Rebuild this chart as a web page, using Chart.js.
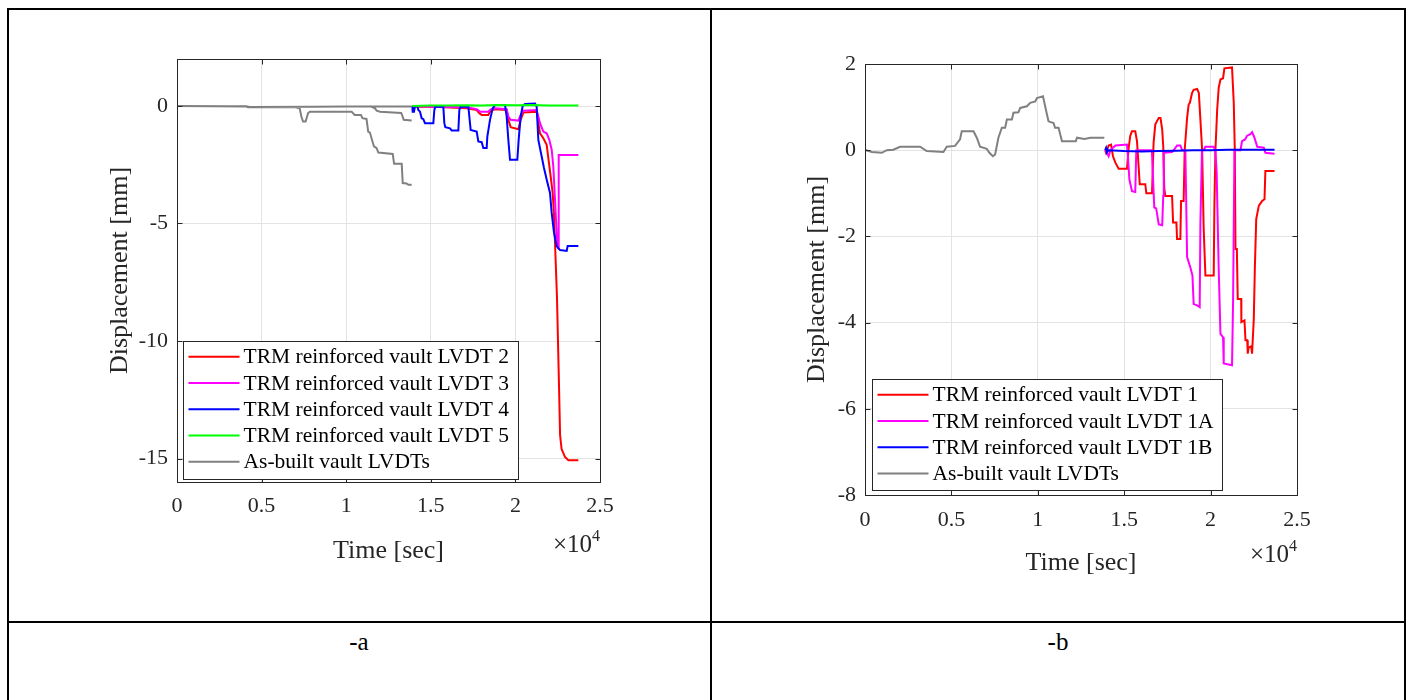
<!DOCTYPE html>
<html><head><meta charset="utf-8">
<script src="https://cdn.jsdelivr.net/npm/chart.js@4.4.0/dist/chart.umd.min.js"></script>
<style>
html,body{margin:0;padding:0;background:#fff;width:1413px;height:700px;overflow:hidden;position:relative;font-family:"Liberation Serif",serif;}
.ln{position:absolute;background:#000;}
canvas{position:absolute;}
.cap{position:absolute;font-size:25px;color:#000;transform:translateX(-50%);font-family:"Liberation Serif",serif;}
</style></head><body>
<div class="ln" style="left:7px;top:8px;width:1399px;height:2px"></div>
<div class="ln" style="left:7px;top:8px;width:2px;height:700px"></div>
<div class="ln" style="left:1404px;top:8px;width:2px;height:700px"></div>
<div class="ln" style="left:710px;top:8px;width:2px;height:700px"></div>
<div class="ln" style="left:7px;top:621px;width:1399px;height:2px"></div>
<div class="cap" style="left:359px;top:628px">-a</div>
<div class="cap" style="left:1058px;top:628px">-b</div>
<canvas id="ca" width="660" height="580" style="left:20px;top:20px"></canvas>
<canvas id="cb" width="680" height="590" style="left:720px;top:20px"></canvas>
<script>
// ---------- tick labels ----------
const xTickLabels = ['0','0.5','1','1.5','2','2.5'];
const xTickValues = [0,5000,10000,15000,20000,25000];
const yTicksA = [-15,-10,-5,0];
const yTicksB = [-8,-6,-4,-2,0,2];

// ---------- chart (a) series: time [s], displacement [mm] ----------
const lvdt2T = [13909,13968,15150,17120,17711,17869,18007,18401,18538,18795,19484,19583,19720,20174,20311,20469,21257,21356,21454,21651,21848,21947,22084,22203,22281,22300,22460,22580,22640,22730,22930,23130,23720];
const lvdt2V = [0,-0.03,-0.03,-0.1,-0.17,-0.31,-0.38,-0.38,-0.2,-0.14,-0.17,-0.59,-0.9,-0.99,-0.59,-0.28,-0.24,-0.73,-1.16,-1.37,-1.65,-2.22,-3.0,-3.7,-4.6,-5.0,-8.2,-12.0,-14.0,-14.6,-14.93,-15.07,-15.07];

const lvdt3T = [13909,15150,17120,17711,17910,18401,18538,18795,19484,19583,19720,20174,20311,20469,21257,21356,21454,21651,21848,22006,22144,22240,22340,22440,22500,22530,22560,23720];
const lvdt3V = [0,-0.03,-0.05,-0.14,-0.24,-0.24,-0.14,-0.1,-0.14,-0.45,-0.59,-0.62,-0.38,-0.2,-0.17,-0.45,-0.73,-1.09,-1.16,-1.44,-1.86,-2.57,-3.98,-5.39,-6.0,-6.05,-2.08,-2.08];

const lvdt4T = [13909,13929,14007,14067,14204,14264,14362,14461,14559,14658,15150,15209,15268,15741,15800,15859,16135,16234,16628,16687,16765,17219,17278,17356,17711,17810,18007,18105,18302,18341,18499,18657,18795,19386,19484,19583,19681,20114,20193,20311,20430,20568,21159,21257,21356,21553,21690,21848,22045,22144,22281,22439,22636,23030,23089,23720];
const lvdt4V = [0,-0.24,-0.24,0,0,-0.17,-0.24,-0.52,-0.56,-0.73,-0.73,-0.17,-0.03,-0.03,-0.73,-0.9,-0.95,-1.04,-1.04,-0.17,-0.03,-0.03,-0.45,-1.02,-1.09,-1.51,-1.54,-1.79,-1.79,-1.3,-0.59,-0.1,0.04,0.04,-0.45,-1.44,-2.29,-2.29,-1.44,-0.45,0,0.09,0.11,-0.03,-1.44,-2.15,-2.64,-3.13,-3.7,-4.55,-5.39,-5.96,-6.13,-6.17,-5.96,-5.96];

const lvdt5T = [13909,15000,16000,17000,18000,19000,20000,21000,22000,23720];
const lvdt5V = [0,0.02,0.02,0.03,0.02,0.04,0.03,0.04,0.02,0.02];

const asBuiltA1T = [0,2000,4100,4200,7000,7250,7350,7450,7600,7750,7860,10320,10500,10870,10960,11200,11300,11400,11640,11800,11900,12750,12830,13280,13340,13570,13670,13870];
const asBuiltA1V = [0,-0.01,-0.02,-0.05,-0.05,-0.1,-0.45,-0.66,-0.66,-0.3,-0.24,-0.24,-0.38,-0.38,-0.52,-0.55,-1.09,-1.13,-1.72,-1.79,-1.98,-2.04,-2.46,-2.46,-3.28,-3.3,-3.35,-3.35];
const asBuiltA2T = [0,3000,4100,4300,8000,10000,13870];
const asBuiltA2V = [0,-0.01,-0.01,-0.04,-0.03,-0.02,-0.02];
const asBuiltA3T = [11400,11700,11800,12000,13250,13300,13400,13870];
const asBuiltA3V = [0,-0.1,-0.2,-0.24,-0.3,-0.38,-0.59,-0.62];

// ---------- chart (b) series ----------
const lvdt1T = [13900,13950,14100,14240,14350,14490,14680,15160,15260,15350,15450,15640,15740,15900,16220,16280,16610,16700,16800,17000,17100,17200,17260,17320,17380,17770,17830,18020,18060,18250,18290,18440,18500,18640,18730,18800,18930,19020,19220,19320,19410,19510,19600,19700,20180,20220,20280,20380,20470,20570,20720,20800,21240,21340,21400,21440,21520,21570,21770,21780,21960,22020,22120,22150,22200,22350,22400,22500,22560,22640,22790,22980,23120,23170,23700];
const lvdt1V = [0,-0.06,0.11,0.13,-0.14,-0.29,-0.43,-0.43,0.06,0.33,0.44,0.44,0.21,-0.79,-0.79,-1.0,-1.0,0.17,0.6,0.75,0.75,0.48,0.08,-0.9,-1.06,-1.06,-1.68,-1.68,-2.06,-2.06,-1.18,-1.18,0,0.75,1.06,1.1,1.33,1.4,1.42,1.33,0.71,0,-1.83,-2.91,-2.91,-1.29,0,0.94,1.45,1.64,1.67,1.9,1.92,1.1,0,-2.29,-2.29,-3.45,-3.45,-3.99,-3.95,-4.41,-4.41,-4.72,-4.58,-4.55,-4.72,-3.91,-2.75,-1.6,-1.29,-1.18,-1.14,-0.48,-0.48];

const lvdt1AT = [13900,13950,14000,14100,14200,14490,15160,15230,15300,15450,15640,15700,16600,16740,16850,17000,17200,17260,17290,17770,17900,18060,18250,18350,18540,18640,18830,18950,19020,19220,19370,19410,19500,19600,19700,20180,20280,20350,20470,20570,20720,20760,21240,21300,21380,21730,21820,22000,22100,22300,22400,22500,22570,22700,23080,23170,23700];
const lvdt1AV = [0,-0.03,-0.06,-0.14,0,0.11,0.13,-0.23,-0.68,-0.95,-0.97,0,0,-1.33,-1.35,-1.72,-1.74,-1.06,-0.06,-0.04,0.02,0.11,0.11,0,0,-2.48,-2.72,-2.91,-3.57,-3.6,-3.64,-1.68,0,0,0.08,0.08,-0.03,-0.5,-2.76,-4.26,-4.34,-4.95,-4.99,-3.53,0,0,0.21,0.25,0.33,0.37,0.42,0.33,0.25,0.08,0.06,-0.06,-0.08];

const lvdt1BT = [13900,13950,14000,14100,15000,16000,17000,18000,19000,20000,21000,22000,23700];
const lvdt1BV = [0,0.05,-0.05,0,-0.02,-0.03,-0.02,-0.01,0,0,0.01,0.01,0.01];

const asBuiltBT = [0,60,400,970,1260,1640,2030,3190,3570,4540,4730,5210,5500,5600,6280,6470,6660,7050,7200,7400,7530,7720,7920,8110,8210,8500,8590,8880,8980,9370,9560,9850,9950,10300,10530,10620,10910,11000,11200,11400,12200,12270,12700,13040,13850];
const asBuiltBV = [0,0,-0.04,-0.06,0,0.01,0.08,0.08,-0.02,-0.04,0.08,0.1,0.25,0.44,0.44,0.29,0.08,0.03,-0.06,-0.14,-0.1,0.29,0.52,0.52,0.71,0.71,0.87,0.88,0.98,1.02,1.1,1.13,1.21,1.25,0.83,0.67,0.63,0.52,0.52,0.21,0.21,0.29,0.26,0.29,0.29];

// ---------- helpers ----------
function pts(T, V){ return T.map((t,i)=>({x:t, y:V[i]})); }
function joinSegs(...segs){
  const out=[];
  segs.forEach((s,i)=>{ if(i>0) out.push({x:s[0].x, y:null}); out.push(...s); });
  return out;
}
const FONT = '"Liberation Serif", serif';
const AXC = '#262626';

// datasets listed in legend order; later entries are drawn on top (like MATLAB)
function series(list){
  const n = list.length;
  return list.map((s,i)=>({label:s[0], data:s[1], borderColor:s[2], backgroundColor:s[2], borderWidth:2,
    pointRadius:0, tension:0, spanGaps:false, fill:false, order:n-i}));
}

const framePlugin = {
  id:'frame',
  afterDatasetsDraw(chart, args, o){
    const {ctx, chartArea:a, scales} = chart;
    ctx.save();
    ctx.strokeStyle = AXC; ctx.lineWidth = 1;
    const l=Math.round(a.left)+0.5, t=Math.round(a.top)+0.5, r=Math.round(a.right)+0.5, b=Math.round(a.bottom)+0.5;
    ctx.strokeRect(l, t, r-l, b-t);
    const L=5;
    ctx.beginPath();
    scales.x.ticks.forEach(tk=>{const px=Math.round(scales.x.getPixelForValue(tk.value))+0.5; ctx.moveTo(px,b); ctx.lineTo(px,b-L); ctx.moveTo(px,t); ctx.lineTo(px,t+L);});
    scales.y.ticks.forEach(tk=>{const py=Math.round(scales.y.getPixelForValue(tk.value))+0.5; ctx.moveTo(l,py); ctx.lineTo(l+L,py); ctx.moveTo(r,py); ctx.lineTo(r-L,py);});
    ctx.stroke();
    // exponent label
    ctx.fillStyle = AXC; ctx.textBaseline='alphabetic';
    ctx.font = '16px '+FONT; ctx.textAlign='right';
    const ey = a.bottom + o.expDy;
    ctx.fillText('4', a.right, ey-11);
    const w4 = ctx.measureText('4').width;
    ctx.font = '25px '+FONT;
    ctx.fillText('\u00d710', a.right - w4, ey);
    // legend
    ctx.font = '21.5px '+FONT; ctx.textAlign='left'; ctx.textBaseline='middle';
    const items = chart.data.datasets;
    const mw = Math.max(...items.map(d=>ctx.measureText(d.label).width));
    const rowH = 26.3, padT=2, padB=4;
    const bw = 60 + mw + 9, bh = rowH*items.length + padT + padB;
    const x0 = Math.round(a.left + o.legDx)+0.5, y0 = Math.round(a.bottom - o.legDy - bh)+0.5;
    ctx.fillStyle='#fff'; ctx.fillRect(x0, y0, bw, bh);
    ctx.strokeStyle=AXC; ctx.lineWidth=1; ctx.strokeRect(x0, y0, Math.round(bw), Math.round(bh));
    items.forEach((d,i)=>{
      const cy = y0 + padT + rowH*(i+0.5);
      ctx.strokeStyle=d.borderColor; ctx.lineWidth=2;
      ctx.beginPath(); ctx.moveTo(x0+5, cy); ctx.lineTo(x0+56, cy); ctx.stroke();
      ctx.fillStyle='#000'; ctx.fillText(d.label, x0+60, cy+1);
    });
    ctx.restore();
  }
};

function makeOptions(cfg){
  return {
    responsive:false, animation:false, devicePixelRatio:1,
    layout:{padding:{left:0, top:cfg.padTop, right:cfg.padRight, bottom:0}},
    plugins:{legend:{display:false}, tooltip:{enabled:false}, frame:{expDy:cfg.expDy, legDx:cfg.legDx, legDy:cfg.legDy}},
    scales:{
      x:{type:'linear', min:0, max:25000,
        afterBuildTicks:s=>{s.ticks = xTickValues.map(v=>({value:v}));},
        afterFit:s=>{s.height = cfg.xH;},
        ticks:{callback:(v)=>xTickLabels[xTickValues.indexOf(v)], color:AXC, font:{family:FONT, size:22}, padding:cfg.xTickPad, maxRotation:0},
        grid:{color:'#e3e3e3', drawTicks:false, lineWidth:1},
        border:{display:false},
        title:{display:true, text:'Time [sec]', color:AXC, font:{family:FONT, size:26}, padding:{top:0,bottom:cfg.xTitlePad}}
      },
      y:{type:'linear', min:cfg.yMin, max:cfg.yMax,
        afterBuildTicks:s=>{s.ticks = cfg.yTicks.map(v=>({value:v}));},
        afterFit:s=>{s.width = cfg.yW;},
        ticks:{color:AXC, font:{family:FONT, size:22}, padding:9, callback:v=>String(v)},
        grid:{color:'#e3e3e3', drawTicks:false, lineWidth:1},
        border:{display:false},
        title:{display:true, text:'Displacement [mm]', color:AXC, font:{family:FONT, size:26}, padding:{top:cfg.yTitlePad,bottom:0}}
      }
    }
  };
}

const grayA = joinSegs(pts(asBuiltA2T,asBuiltA2V), pts(asBuiltA1T,asBuiltA1V), pts(asBuiltA3T,asBuiltA3V));
new Chart(document.getElementById('ca'), {
  type:'line',
  data:{datasets: series([
    ['TRM reinforced vault LVDT 2', pts(lvdt2T,lvdt2V), '#ff0000'],
    ['TRM reinforced vault LVDT 3', pts(lvdt3T,lvdt3V), '#ff00ff'],
    ['TRM reinforced vault LVDT 4', pts(lvdt4T,lvdt4V), '#0000ff'],
    ['TRM reinforced vault LVDT 5', pts(lvdt5T,lvdt5V), '#00ff00'],
    ['As-built vault LVDTs', grayA, '#808080']
  ])},
  options: makeOptions({padTop:39, padRight:80, xH:118, yW:157, yMin:-16, yMax:2, yTicks:yTicksA, xTickPad:11, xTitlePad:33, yTitlePad:85, expDy:70, legDx:6, legDy:4}),
  plugins:[framePlugin]
});

new Chart(document.getElementById('cb'), {
  type:'line',
  data:{datasets: series([
    ['TRM reinforced vault LVDT 1', pts(lvdt1T,lvdt1V), '#ff0000'],
    ['TRM reinforced vault LVDT 1A', pts(lvdt1AT,lvdt1AV), '#ff00ff'],
    ['TRM reinforced vault LVDT 1B', pts(lvdt1BT,lvdt1BV), '#0000ff'],
    ['As-built vault LVDTs', pts(asBuiltBT,asBuiltBV), '#808080']
  ])},
  options: makeOptions({padTop:44, padRight:103, xH:115, yW:145, yMin:-8, yMax:2, yTicks:yTicksB, xTickPad:12, xTitlePad:31, yTitlePad:82, expDy:67, legDx:7, legDy:5}),
  plugins:[framePlugin]
});
</script>
</body></html>
